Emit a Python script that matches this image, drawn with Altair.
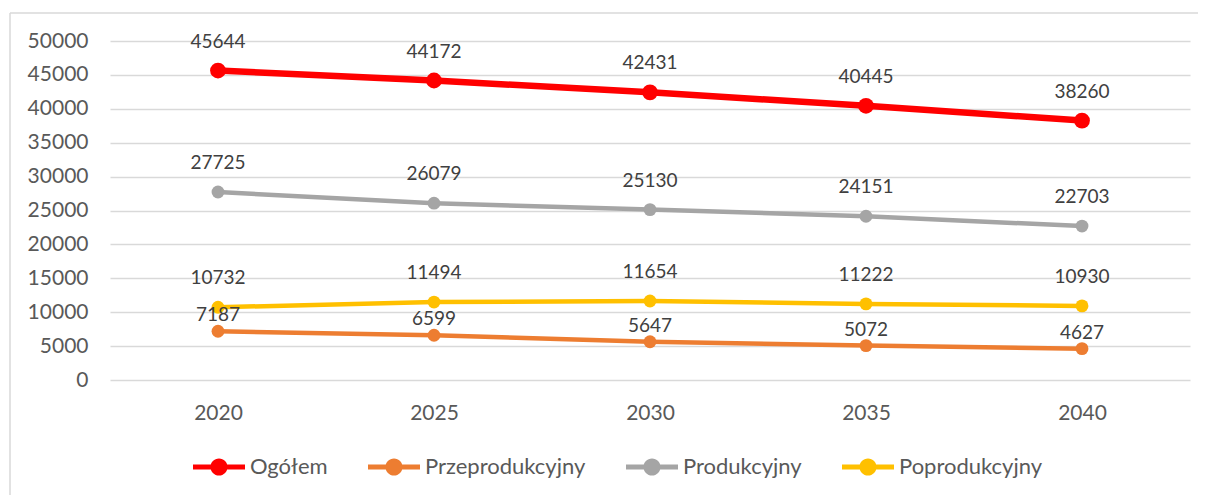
import altair as alt
import pandas as pd

years = ["2020", "2025", "2030", "2035", "2040"]
series = ["Ogółem", "Przeprodukcyjny", "Produkcyjny", "Poprodukcyjny"]
ogolem = [45644, 44172, 42431, 40445, 38260]
przedprod = [7187, 6599, 5647, 5072, 4627]
prod = [27725, 26079, 25130, 24151, 22703]
poprod = [10732, 11494, 11654, 11222, 10930]
colors = ["#FF0000", "#ED7D31", "#A5A5A5", "#FFC000"]

rows = []
for name, vals in zip(series, [ogolem, przedprod, prod, poprod]):
    for yr, v in zip(years, vals):
        rows.append({"rok": yr, "seria": name, "wartosc": v})
df = pd.DataFrame(rows)

FONT = "Lato"
LABEL_COLOR = "#595959"

x = alt.X("rok:O", sort=years,
          axis=alt.Axis(title=None, labelAngle=0, ticks=False, tickSize=0, domain=False,
                        labelPadding=22, labelFontSize=21, labelColor=LABEL_COLOR,
                        labelFont=FONT, grid=False))
y = alt.Y("wartosc:Q", scale=alt.Scale(domain=[0, 50000], nice=False),
          axis=alt.Axis(title=None, values=list(range(0, 50001, 5000)), format="d",
                        ticks=False, tickSize=0, domain=False, labelPadding=22,
                        labelFontSize=21, labelColor=LABEL_COLOR, labelFont=FONT,
                        gridColor="#D9D9D9", gridWidth=1.5))
cscale = alt.Scale(domain=series, range=colors)

PATH = ("M-1,-0.1 L1,-0.1 L1,0.1 L-1,0.1 Z "
        "M-0.33,0 A0.33,0.33 0 1,1 0.33,0 A0.33,0.33 0 1,1 -0.33,0 Z")

legend = alt.Legend(title=None, orient="none", legendX=83, legendY=400,
                    direction="horizontal", symbolType=PATH, symbolSize=2704,
                    symbolStrokeWidth=0, symbolOpacity=1, labelFont=FONT,
                    labelFontSize=22, labelColor=LABEL_COLOR, labelOffset=5,
                    columnPadding=40, padding=0, labelLimit=0)

is_total = alt.datum.seria == "Ogółem"

lines = alt.Chart(df).mark_line().encode(
    x=x, y=y,
    color=alt.Color("seria:N", scale=cscale, sort=series, legend=legend),
    strokeWidth=alt.condition(is_total, alt.value(6.5), alt.value(4.5)),
)

points = alt.Chart(df).mark_point(filled=True, opacity=1).encode(
    x=x, y=y,
    color=alt.Color("seria:N", scale=cscale, sort=series, legend=legend),
    size=alt.condition(is_total, alt.value(250), alt.value(165)),
)

labels_main = alt.Chart(df).mark_text(
    font=FONT, fontSize=19, color="#404040", baseline="middle", dy=-29
).encode(x=x, y=y, text=alt.Text("wartosc:Q", format="d")).transform_filter(
    alt.datum.seria != "Przeprodukcyjny")

labels_orange = alt.Chart(df).mark_text(
    font=FONT, fontSize=19, color="#404040", baseline="middle", dy=-16
).encode(x=x, y=y, text=alt.Text("wartosc:Q", format="d")).transform_filter(
    alt.datum.seria == "Przeprodukcyjny")

bdf = pd.DataFrame({"k": [0]})
border_left = alt.Chart(bdf).mark_rule(color="#D9D9D9", strokeWidth=1.5).encode(
    x=alt.value(-100), y=alt.value(-28), y2=alt.value(470))
border_top = alt.Chart(bdf).mark_rule(color="#D9D9D9", strokeWidth=1.5).encode(
    x=alt.value(-100), x2=alt.value(1095), y=alt.value(-28))

chart = alt.layer(border_left, border_top, lines, points, labels_main, labels_orange).properties(
    width=1080, height=339,
    padding={"left": 102, "top": 33, "right": 8, "bottom": 115},
    autosize="none",
).configure_view(stroke=None).configure_legend(symbolFillColor=None)

chart.save("out.html", embed_options={"renderer": "svg", "actions": False})
